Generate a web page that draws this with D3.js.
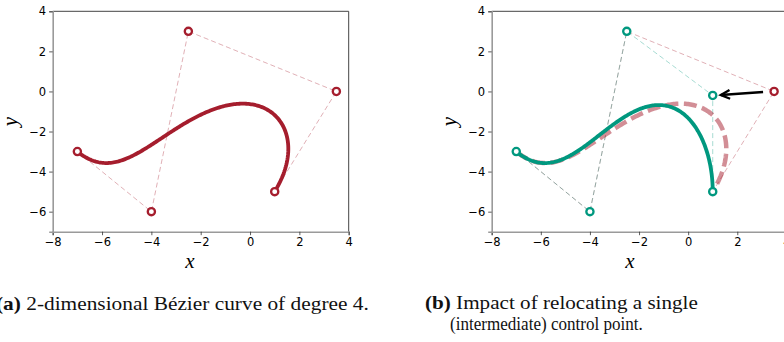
<!DOCTYPE html>
<html><head><meta charset="utf-8">
<script src="https://cdn.jsdelivr.net/npm/d3@7"></script>
<style>body{margin:0;background:#fff}svg{display:block}</style>
</head><body>
<svg id="c" width="784" height="342"></svg>
<script>
// Data
const controlPoints = [[-7,-3],[-4,-6],[-2.5,3],[3.5,0],[1,-5]];
const movedIndex = 3;
const movedPoint = [1,-0.2];
const arrowFrom = [3.05,-0.03];
const arrowTo = [1.33,-0.18];
const xTicks = [-8,-6,-4,-2,0,2,4];
const yTicks = [-6,-4,-2,0,2,4];
const xDomain = [-8,4];
const yDomain = [-7,4];
const captionA = ["(a)", " 2-dimensional Bézier curve of degree 4."];
const captionB1 = ["(b)", " Impact of relocating a single"];
const captionB2 = ["", "(intermediate) control point."];

const RED = "#a51d2d", TEAL = "#00987f";
const svg = d3.select("#c");

function bezier(pts, t){
  let p = pts.map(d=>d.slice());
  for(let k=p.length-1;k>0;k--) for(let i=0;i<k;i++)
    p[i]=[(1-t)*p[i][0]+t*p[i+1][0],(1-t)*p[i][1]+t*p[i+1][1]];
  return p[0];
}
function curvePts(pts){ return d3.range(0,201).map(i=>bezier(pts,i/200)); }

function makeAxes(x0,x1){
  const x = d3.scaleLinear().domain(xDomain).range([x0,x1]);
  const y = d3.scaleLinear().domain(yDomain).range([231.7,11.3]);
  return {x,y};
}
function drawFrame(g,s,labelX){
  const {x,y}=s;
  const [X0,X1]=x.range(), [Y1,Y0]=y.range();
  g.append("line").attr("x1",X0).attr("x2",X1).attr("y1",Y0).attr("y2",Y0).attr("stroke","#444").attr("stroke-width",1);
  g.append("line").attr("x1",X1).attr("x2",X1).attr("y1",Y0).attr("y2",Y1).attr("stroke","#444").attr("stroke-width",1);
  const fmt = d=>d<0?"\u2212"+(-d):d;
  const xa = g.append("g").attr("transform",`translate(0,${Y1})`)
    .call(d3.axisBottom(x).tickValues(xTicks).tickSize(3.5).tickPadding(2.5).tickFormat(fmt));
  const ya = g.append("g").attr("transform",`translate(${X0},0)`)
    .call(d3.axisLeft(y).tickValues(yTicks).tickSize(3.5).tickPadding(3).tickFormat(fmt));
  [xa,ya].forEach(a=>{
    a.select(".domain").attr("stroke","#9a9a9a").attr("stroke-width",1.6);
    a.selectAll(".tick line").attr("stroke","#333").attr("stroke-width",0.8);
    a.selectAll(".tick text").attr("font-family","DejaVu Sans").attr("font-size",11.5).attr("fill","#000");
  });
  g.append("text").attr("x",labelX).attr("y",268).attr("text-anchor","middle")
    .attr("font-family","Liberation Serif").attr("font-style","italic").attr("font-size",21).text("x");
  g.append("text").attr("transform",`translate(${X0-36},${(Y0+Y1)/2}) rotate(-90)`).attr("text-anchor","middle")
    .attr("font-family","Liberation Serif").attr("font-style","italic").attr("font-size",21).text("y");
}
const line = s => d3.line().x(d=>s.x(d[0])).y(d=>s.y(d[1]));
function markers(g,s,pts,color){
  g.selectAll(null).data(pts).enter().append("circle")
    .attr("cx",d=>s.x(d[0])).attr("cy",d=>s.y(d[1])).attr("r",3.6)
    .attr("fill","#fff").attr("stroke",color).attr("stroke-width",2.3);
}

// Panel (a)
const sA = makeAxes(52.7,348.7);
const gA = svg.append("g");
gA.append("path").datum(controlPoints).attr("d",line(sA)).attr("fill","none")
  .attr("stroke",RED).attr("stroke-opacity",0.35).attr("stroke-width",1).attr("stroke-dasharray","5,3");
gA.append("path").datum(curvePts(controlPoints)).attr("d",line(sA)).attr("fill","none")
  .attr("stroke",RED).attr("stroke-width",3.8).attr("stroke-linecap","round");
markers(gA,sA,controlPoints,RED);
drawFrame(gA,sA,190);

// Panel (b)
const sB = makeAxes(491.7,786.4);
const gB = svg.append("g");
const newPoints = controlPoints.map((d,i)=>i===movedIndex?movedPoint:d);
gB.append("path").datum(controlPoints).attr("d",line(sB)).attr("fill","none")
  .attr("stroke",RED).attr("stroke-opacity",0.35).attr("stroke-width",1).attr("stroke-dasharray","5,3");
gB.append("path").datum(newPoints).attr("d",line(sB)).attr("fill","none")
  .attr("stroke",TEAL).attr("stroke-opacity",0.35).attr("stroke-width",1).attr("stroke-dasharray","5,3");
gB.append("path").datum(curvePts(controlPoints)).attr("d",line(sB)).attr("fill","none")
  .attr("stroke",RED).attr("stroke-opacity",0.5).attr("stroke-width",4.5).attr("stroke-dasharray","13,5.5");
gB.append("path").datum(curvePts(newPoints)).attr("d",line(sB)).attr("fill","none")
  .attr("stroke",TEAL).attr("stroke-width",3.8).attr("stroke-linecap","round");
markers(gB,sB,newPoints,TEAL);
markers(gB,sB,[controlPoints[movedIndex]],RED);
{
  const ax0=sB.x(arrowFrom[0]), ay0=sB.y(arrowFrom[1]), ax1=sB.x(arrowTo[0]), ay1=sB.y(arrowTo[1]);
  const ang=Math.atan2(ay0-ay1,ax0-ax1), L=10, W=0.45;
  const h1=[ax1+L*Math.cos(ang+W), ay1+L*Math.sin(ang+W)], h2=[ax1+L*Math.cos(ang-W), ay1+L*Math.sin(ang-W)];
  gB.append("line").attr("x1",ax0).attr("y1",ay0).attr("x2",ax1).attr("y2",ay1).attr("stroke","#000").attr("stroke-width",2.4);
  gB.append("path").attr("d",`M${h1}L${ax1},${ay1}L${h2}`).attr("fill","none").attr("stroke","#000").attr("stroke-width",2.4);
}
drawFrame(gB,sB,630);

// Captions: fit each line to the reference width
function caption(x0,x1,y,parts){
  const g=svg.append("g");
  const t=g.append("text").attr("font-family","Liberation Serif").attr("font-size",19.5).attr("fill","#111");
  if(parts[0]) t.append("tspan").attr("font-weight","bold").text(parts[0]);
  t.append("tspan").text(parts[1]);
  const w=t.node().getComputedTextLength();
  g.attr("transform",`translate(${x0},${y}) scale(${(x1-x0)/w},1)`);
}
caption(-4,369,310,captionA);
caption(425,698,309,captionB1);
caption(450,643,330,captionB2);
</script>
</body></html>
